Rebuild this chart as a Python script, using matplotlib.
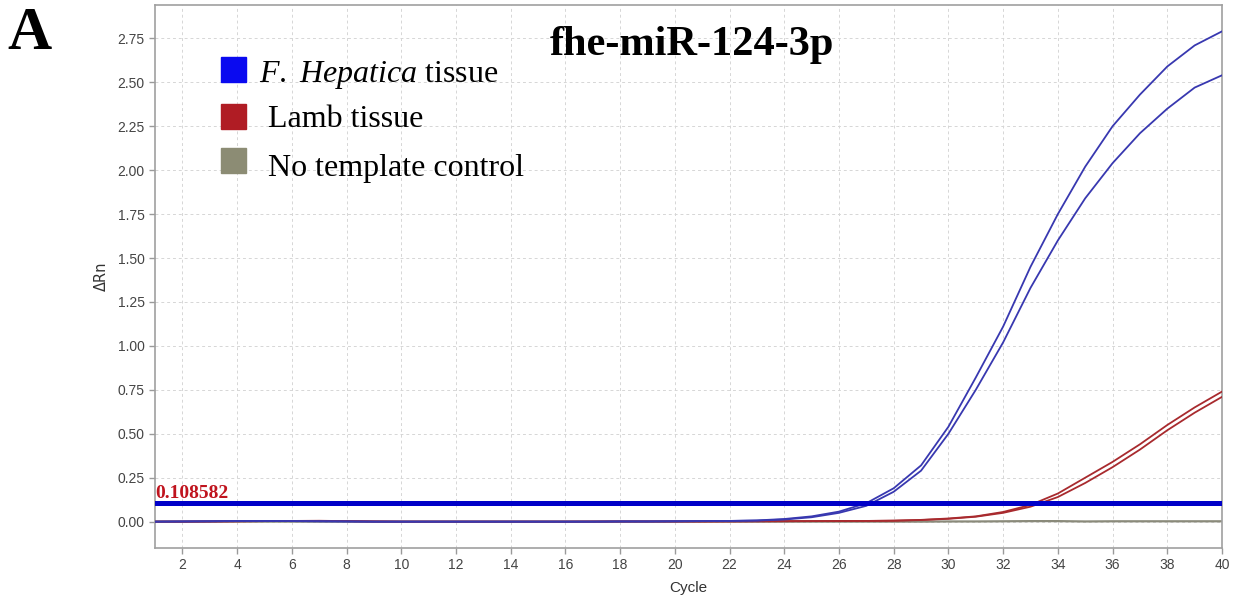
import matplotlib.pyplot as plt
from matplotlib.patches import Rectangle

plt.rcParams["mathtext.fontset"] = "custom"
plt.rcParams["mathtext.rm"] = "Liberation Serif"
plt.rcParams["mathtext.it"] = "Liberation Serif:italic"

cycles = list(range(1, 41))

# F. Hepatica tissue (two replicates)
hep_1 = [0.000, 0.001, 0.002, 0.004, 0.004, 0.003, 0.002, 0.001, 0.000, 0.000,
         0.000, 0.000, 0.000, 0.000, 0.000, 0.000, 0.000, 0.001, 0.001, 0.002,
         0.003, 0.004, 0.007, 0.015, 0.030, 0.057, 0.105, 0.190, 0.320, 0.540,
         0.820, 1.110, 1.450, 1.750, 2.020, 2.250, 2.430, 2.590, 2.710, 2.790]
hep_2 = [0.000, 0.001, 0.002, 0.003, 0.004, 0.003, 0.002, 0.001, 0.000, 0.000,
         0.000, 0.000, 0.000, 0.000, 0.000, 0.000, 0.000, 0.001, 0.001, 0.002,
         0.003, 0.004, 0.006, 0.012, 0.025, 0.050, 0.090, 0.170, 0.290, 0.500,
         0.750, 1.020, 1.330, 1.600, 1.840, 2.040, 2.210, 2.350, 2.470, 2.540]
# Lamb tissue (two replicates)
lamb_1 = [0.000, 0.000, 0.001, 0.002, 0.003, 0.004, 0.005, 0.003, 0.001, 0.000,
          0.000, 0.000, 0.000, 0.000, 0.000, 0.000, 0.001, 0.001, 0.001, 0.001,
          0.001, 0.002, 0.002, 0.003, 0.003, 0.004, 0.004, 0.006, 0.010, 0.018,
          0.030, 0.055, 0.095, 0.160, 0.250, 0.340, 0.440, 0.550, 0.650, 0.740]
lamb_2 = [0.000, 0.000, 0.001, 0.002, 0.003, 0.004, 0.004, 0.003, 0.001, 0.000,
          0.000, 0.000, 0.000, 0.000, 0.000, 0.000, 0.000, 0.001, 0.001, 0.001,
          0.001, 0.001, 0.002, 0.002, 0.003, 0.003, 0.004, 0.005, 0.009, 0.016,
          0.028, 0.050, 0.085, 0.140, 0.220, 0.310, 0.410, 0.520, 0.620, 0.710]
# No template control
ntc = [0.000, 0.000, 0.000, 0.000, 0.000, 0.000, 0.000, 0.000, 0.000, 0.000,
       0.000, 0.000, 0.000, 0.000, 0.000, 0.000, 0.000, 0.000, 0.000, 0.000,
       0.000, 0.000, 0.000, 0.000, 0.000, 0.000, 0.000, 0.000, 0.000, 0.001,
       0.001, 0.002, 0.003, 0.003, 0.001, 0.002, 0.002, 0.002, 0.002, 0.002]

threshold = 0.108582
x_ticks = list(range(2, 41, 2))
y_ticks = [0.0, 0.25, 0.5, 0.75, 1.0, 1.25, 1.5, 1.75, 2.0, 2.25, 2.5, 2.75]
legend_labels = [r"$\it{F.}$ $\it{Hepatica}$ tissue", "Lamb tissue", "No template control"]
legend_colors = ["#0a0af0", "#b01c24", "#8c8c74"]

W, H = 1238, 597
fig = plt.figure(figsize=(W / 100, H / 100), dpi=100)
ax = fig.add_axes([155 / W, 49 / H, 1067 / W, 543 / H])

ax.plot(cycles, ntc, color="#8a8a7a", lw=1.6, zorder=2)
ax.plot(cycles, lamb_1, color="#a82a2e", lw=1.3, zorder=3)
ax.plot(cycles, lamb_2, color="#a82a2e", lw=1.3, zorder=3)
ax.plot(cycles, hep_1, color="#3838b0", lw=1.3, zorder=3)
ax.plot(cycles, hep_2, color="#3838b0", lw=1.3, zorder=3)
ax.axhline(threshold, color="#0000c8", lw=3.6, zorder=4)
ax.text(1.0, threshold + 0.025, f"{threshold:.6f}", color="#c0141e",
        family="Liberation Serif", fontweight="bold", fontsize=14,
        ha="left", va="baseline", zorder=5)

ax.set_xlim(1, 40)
ax.set_ylim(-0.15, 2.94)
ax.set_xticks(x_ticks)
ax.set_yticks(y_ticks)
ax.set_yticklabels([f"{v:.2f}" for v in y_ticks])
ax.grid(True, color="#d6d6d6", lw=0.7, ls=(0, (3, 3)))
ax.set_axisbelow(True)
for s in ax.spines.values():
    s.set_color("#a0a0a0")
    s.set_linewidth(1.2)
ax.tick_params(colors="#9a9a9a", labelcolor="#444444", labelsize=10,
               length=4, width=1)
for lab in ax.get_xticklabels() + ax.get_yticklabels():
    lab.set_family("Liberation Sans")
ax.set_xlabel("Cycle", family="Liberation Sans", fontsize=11,
              color="#333333", labelpad=6)
ax.set_ylabel("ΔRn", family="DejaVu Sans", fontsize=10.5,
              color="#333333", labelpad=6)

# panel letter and title
fig.text(7 / W, 1 - 49 / H, "A", family="Liberation Serif",
         fontweight="bold", fontsize=44, va="baseline")
fig.text(550 / W, 1 - 55 / H, "fhe-miR-124-3p", family="Liberation Serif",
         fontweight="bold", fontsize=30.5, va="baseline")

# legend
box_tops = [57, 104, 148]
text_base = [82, 127, 176]
text_x = [259, 268, 268]
for top, base, tx, lab, col in zip(box_tops, text_base, text_x,
                                   legend_labels, legend_colors):
    fig.patches.append(Rectangle((221 / W, 1 - (top + 25) / H), 25 / W, 25 / H,
                                 transform=fig.transFigure, color=col))
    fig.text(tx / W, 1 - base / H, lab, family="Liberation Serif",
             fontsize=23, va="baseline")

fig.savefig("out.png", dpi=100)
